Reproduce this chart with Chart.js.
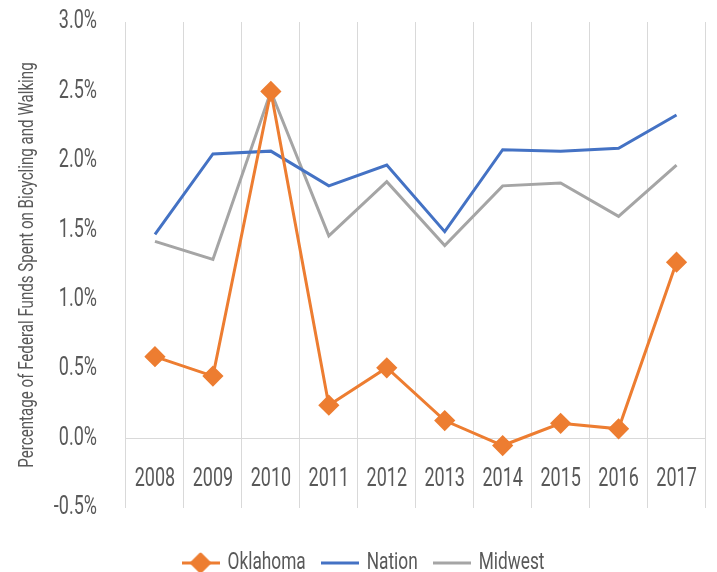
<!DOCTYPE html>
<html>
<head>
<meta charset="utf-8">
<script src="https://cdn.jsdelivr.net/npm/chart.js@4"></script>
<style>
  html, body { margin: 0; padding: 0; background: #fff; }
  #wrap { width: 717px; height: 572px; }
</style>
</head>
<body>
<div id="wrap"><canvas id="fundsChart" width="717" height="572"></canvas></div>
<script>
// données (en %)
const years = ["2008", "2009", "2010", "2011", "2012", "2013", "2014", "2015", "2016", "2017"];
const oklahoma = [0.59, 0.45, 2.50, 0.24, 0.51, 0.13, -0.05, 0.11, 0.07, 1.27];
const nation   = [1.47, 2.05, 2.07, 1.82, 1.97, 1.49, 2.08, 2.07, 2.09, 2.33];
const midwest  = [1.42, 1.29, 2.50, 1.46, 1.85, 1.39, 1.82, 1.84, 1.60, 1.97];
const yTicks = [-0.5, 0.0, 0.5, 1.0, 1.5, 2.0, 2.5, 3.0];

const ORANGE = "#ED7D31";
const BLUE = "#4472C4";
const GREY = "#A5A5A5";
const TEXT = "#595959";
const FONT = "Roboto, 'Noto Sans', sans-serif";
const SQUEEZE = 0.72; // pas de police condensée installée : on resserre le texte

const ctx = document.getElementById("fundsChart").getContext("2d");

// texte "condensé" : on écrase horizontalement autour du point d'ancrage
ctx.fillText = function (text, x, y) {
    this.save();
    this.translate(x, y);
    this.scale(SQUEEZE, 1);
    CanvasRenderingContext2D.prototype.fillText.call(this, text, 0, 0);
    this.restore();
};
ctx.measureText = function (text) {
    const m = CanvasRenderingContext2D.prototype.measureText.call(this, text);
    return {
        width: m.width * SQUEEZE,
        actualBoundingBoxAscent: m.actualBoundingBoxAscent,
        actualBoundingBoxDescent: m.actualBoundingBoxDescent,
        actualBoundingBoxLeft: m.actualBoundingBoxLeft * SQUEEZE,
        actualBoundingBoxRight: m.actualBoundingBoxRight * SQUEEZE
    };
};

// petites icônes pour la légende
function legendIcon(color, withDiamond) {
    const c = document.createElement("canvas");
    c.width = 38; c.height = 24;
    const g = c.getContext("2d");
    g.strokeStyle = color;
    g.lineWidth = 3;
    g.beginPath(); g.moveTo(0, 12); g.lineTo(38, 12); g.stroke();
    if (withDiamond) {
        g.fillStyle = color;
        g.lineJoin = "round";
        g.beginPath();
        g.moveTo(19, 3); g.lineTo(28, 12); g.lineTo(19, 21); g.lineTo(10, 12); g.closePath();
        g.fill(); g.stroke();
    }
    return c;
}

const LEGEND_PAD = 19;

const layoutFix = {
    id: "layoutFix",
    beforeInit(chart) {
        const fit = chart.legend.fit;
        chart.legend.fit = function () {
            fit.call(this);
            this.height = 64;
        };
    },
    afterLayout(chart) {
        chart.legend.top += 24;
        chart.legend.bottom += 24;
        chart.legend.left += 10;
        chart.legend.right += 10;
    }
};

new Chart(ctx, {
    type: "line",
    data: {
        labels: years,
        datasets: [
            {
                label: "Oklahoma",
                data: oklahoma,
                borderColor: ORANGE,
                backgroundColor: ORANGE,
                borderWidth: 3,
                pointStyle: "rectRot",
                pointRadius: 8.5,
                pointBorderWidth: 3,
                pointBorderColor: ORANGE,
                pointBackgroundColor: ORANGE,
                tension: 0,
                order: 0
            },
            {
                label: "Nation",
                data: nation,
                borderColor: BLUE,
                backgroundColor: BLUE,
                borderWidth: 3,
                pointRadius: 0,
                tension: 0,
                order: 1
            },
            {
                label: "Midwest",
                data: midwest,
                borderColor: GREY,
                backgroundColor: GREY,
                borderWidth: 3,
                pointRadius: 0,
                tension: 0,
                order: 2
            }
        ]
    },
    plugins: [layoutFix],
    options: {
        responsive: false,
        animation: false,
        layout: { padding: { left: 0, right: 7, top: 22, bottom: 0 } },
        plugins: {
            tooltip: { enabled: false },
            legend: {
                position: "bottom",
                labels: {
                    color: TEXT,
                    font: { family: FONT, size: 24 },
                    usePointStyle: true,
                    pointStyleWidth: 30,
                    padding: LEGEND_PAD,
                    generateLabels: chart => chart.data.datasets.map((ds, i) => ({
                        text: ds.label,
                        fontColor: TEXT,
                        datasetIndex: i,
                        pointStyle: legendIcon(ds.borderColor, i === 0),
                        hidden: false,
                        lineWidth: 0,
                        strokeStyle: ds.borderColor,
                        fillStyle: ds.borderColor
                    }))
                }
            }
        },
        scales: {
            x: {
                position: { y: 0 },
                offset: true,
                afterFit: s => { s.paddingLeft = 0; s.paddingRight = 0; },
                grid: { display: true, offset: true, color: "#D9D9D9", lineWidth: 1, drawTicks: false },
                border: { display: true, color: "#D9D9D9", width: 1 },
                ticks: { color: TEXT, font: { family: FONT, size: 25 }, padding: 26, maxRotation: 0 }
            },
            y: {
                min: -0.5,
                max: 3.0,
                afterBuildTicks: s => { s.ticks = yTicks.map(v => ({ value: v })); },
                afterFit: s => { s.width = 126; s.paddingTop = 0; s.paddingBottom = 0; },
                grid: { display: false, drawTicks: false },
                border: { display: false },
                ticks: {
                    color: TEXT,
                    font: { family: FONT, size: 25 },
                    padding: 29,
                    callback: v => v.toFixed(1) + "%"
                },
                title: {
                    display: true,
                    text: "Percentage of Federal Funds Spent on Bicycling and Walking",
                    color: TEXT,
                    font: { family: FONT, size: 21 },
                    padding: { top: 15, bottom: 0 }
                }
            }
        }
    }
});
</script>
</body>
</html>
